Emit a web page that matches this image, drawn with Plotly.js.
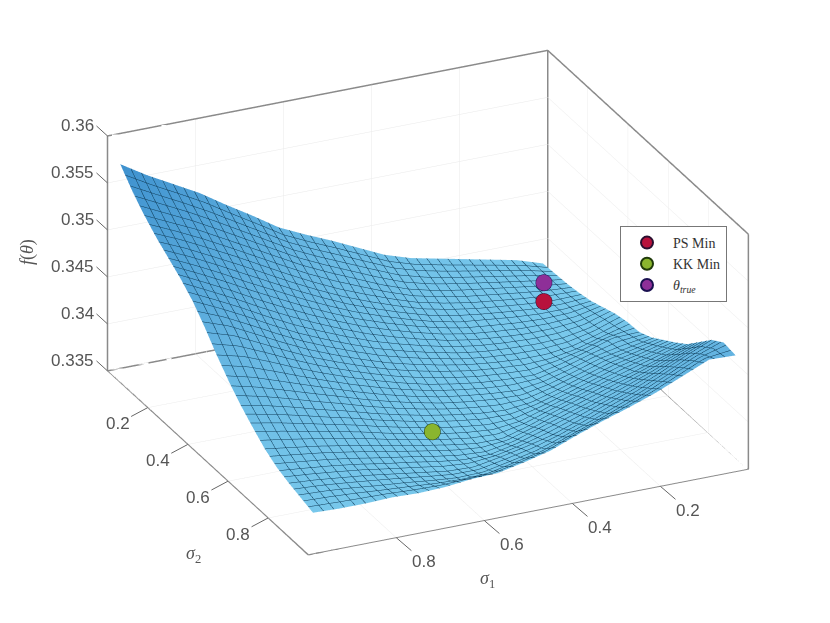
<!DOCTYPE html>
<html><head><meta charset="utf-8"><script src="https://cdn.plot.ly/plotly-3.0.1.min.js"></script>
<style>html,body{margin:0;padding:0;background:#fff}</style></head><body><div id="g" style="width:830px;height:623px"></div>
<script>
const sigma1=[.02,.08,.14,.20,.26,.32,.38,.44,.50,.56,.62,.68,.74,.80,.86,.92,.98];
const sigma2=[.02,.08,.14,.20,.26,.32,.38,.44,.50,.56,.62,.68,.74,.80,.86,.92,.98];
const fTheta=[
[.3379,.3388,.3394,.3400,.3406,.3412,.3421,.3434,.3447,.3459,.3472,.3490,.3507,.3525,.3540,.3555,.3572],
[.3380,.3386,.3391,.3396,.3401,.3407,.3415,.3427,.3439,.3451,.3464,.3480,.3496,.3512,.3527,.3541,.3555],
[.3381,.3384,.3388,.3392,.3396,.3401,.3408,.3418,.3430,.3442,.3455,.3470,.3485,.3500,.3515,.3528,.3541],
[.3383,.3383,.3385,.3388,.3391,.3396,.3402,.3411,.3421,.3432,.3445,.3459,.3474,.3489,.3503,.3517,.3529],
[.3386,.3383,.3383,.3385,.3388,.3391,.3397,.3405,.3414,.3424,.3436,.3449,.3463,.3477,.3492,.3506,.3519],
[.3391,.3384,.3382,.3382,.3384,.3387,.3392,.3399,.3407,.3416,.3427,.3439,.3452,.3466,.3481,.3495,.3509],
[.3396,.3386,.3381,.3380,.3381,.3383,.3387,.3393,.3400,.3408,.3418,.3429,.3441,.3455,.3470,.3484,.3497],
[.3399,.3390,.3382,.3378,.3378,.3380,.3383,.3388,.3394,.3401,.3410,.3420,.3431,.3444,.3458,.3472,.3481],
[.3400,.3399,.3390,.3382,.3376,.3377,.3379,.3383,.3388,.3395,.3403,.3412,.3422,.3433,.3445,.3456,.3463],
[.3406,.3401,.3396,.3387,.3379,.3374,.3376,.3379,.3383,.3389,.3396,.3404,.3413,.3422,.3431,.3440,.3447],
[.3415,.3408,.3402,.3393,.3384,.3376,.3373,.3375,.3379,.3384,.3390,.3397,.3405,.3412,.3420,.3427,.3433],
[.3424,.3416,.3409,.3400,.3391,.3382,.3374,.3372,.3375,.3379,.3385,.3391,.3398,.3404,.3410,.3416,.3421],
[.3434,.3425,.3416,.3408,.3399,.3390,.3380,.3372,.3372,.3376,.3381,.3386,.3392,.3397,.3402,.3406,.3410],
[.3448,.3437,.3426,.3416,.3406,.3397,.3388,.3379,.3373,.3374,.3378,.3383,.3387,.3392,.3396,.3399,.3402],
[.3462,.3450,.3437,.3425,.3415,.3404,.3394,.3387,.3381,.3376,.3377,.3381,.3385,.3389,.3392,.3395,.3397],
[.3471,.3461,.3448,.3435,.3424,.3413,.3403,.3393,.3387,.3381,.3380,.3382,.3385,.3387,.3390,.3392,.3393],
[.3469,.3470,.3458,.3446,.3436,.3427,.3417,.3406,.3399,.3393,.3392,.3389,.3388,.3389,.3388,.3388,.3389]];
const axisTicks=[.2,.4,.6,.8];
const axisTickText=['0.2','0.4','0.6','0.8'];
const zTicks=[.335,.34,.345,.35,.355,.36];
const zTickText=['0.335','0.34','0.345','0.35','0.355','0.36'];
const zGrid=[.34,.345,.35,.355];
const boxX=[1,0,0,1,1,null,0,0,0,null,0,0,null,1,1,null,1,0,0,null,1,1];
const boxY=[0,0,0,0,0,null,0,0,1,null,1,1,null,0,0,null,1,1,0,null,0,1];
const boxZ=[.335,.335,.36,.36,.335,null,.335,.36,.36,null,.335,.36,null,.335,.36,null,.335,.335,.335,null,.335,.335];
const traces=[
{type:'surface',x:sigma1,y:sigma2,z:fTheta,showscale:false,cmin:.335,cmax:.357,
 colorscale:[[0,'#80d0f0'],[.5,'#66b6e2'],[1,'#3f92cf']],
 lighting:{ambient:1,diffuse:0,specular:0,fresnel:0},
 contours:{x:{show:true,start:.02,end:.98,size:.024,color:'#0f3d5a',width:3,highlight:false},
           y:{show:true,start:.02,end:.98,size:.024,color:'#0f3d5a',width:3,highlight:false},
           z:{highlight:false}},showlegend:false,hoverinfo:'skip'},
{type:'scatter3d',mode:'lines',x:boxX,y:boxY,z:boxZ,line:{color:'#8a8a8a',width:3},showlegend:false,hoverinfo:'skip'},
{type:'scatter3d',mode:'markers',name:'PS Min',x:[.237],y:[.5],z:[.34524],marker:{size:9.5,color:'#b8123c',line:{color:'#2a1030',width:3}}},
{type:'scatter3d',mode:'markers',name:'KK Min',x:[.65],y:[.85],z:[.342],marker:{size:9.5,color:'#8ab52e',line:{color:'#1f3a0a',width:3}}},
{type:'scatter3d',mode:'markers',name:'<i>θ<sub>true</sub></i>',x:[.237],y:[.5],z:[.34725],marker:{size:9.5,color:'#8e2f98',line:{color:'#1a1050',width:3}}}
];
const ax=(vals)=>({range:[0,1],tickmode:'array',tickvals:vals,showticklabels:false,ticks:'',showbackground:false,showline:true,linecolor:'#8a8a8a',linewidth:2,zeroline:false,
 gridcolor:'#e9e9e9',gridwidth:1,title:{text:''},showspikes:false});
const tickStyle={showarrow:true,arrowhead:0,arrowwidth:1,arrowcolor:'#666',font:{family:'Liberation Sans',size:17,color:'#555'}};
const sceneTicks=[
 ...axisTicks.map((v,i)=>Object.assign({x:v,y:1,z:.335,text:axisTickText[i],ax:28,ay:24},tickStyle)),
 ...axisTicks.map((v,i)=>Object.assign({x:1,y:v,z:.335,text:axisTickText[i],ax:-30,ay:16},tickStyle)),
 ...zTicks.map((v,i)=>Object.assign({x:1,y:0,z:v,text:zTickText[i],xanchor:'right',ax:-11,ay:-10},tickStyle))
];
const titleStyle={xref:'paper',yref:'paper',xanchor:'center',yanchor:'middle',showarrow:false,font:{family:'Liberation Serif',size:18,color:'#555'}};
const layout={width:830,height:623,margin:{l:0,r:0,t:0,b:0},paper_bgcolor:'#fff',showlegend:true,
 legend:{x:620/830,y:1-226/623,xanchor:'left',yanchor:'top',bgcolor:'#fff',bordercolor:'#777',borderwidth:1,font:{family:'Liberation Serif',size:14,color:'#333'},itemsizing:'constant',itemwidth:42,entrywidth:94,entrywidthmode:'pixels'},
 scene:{domain:{x:[0,1],y:[0,1]},aspectmode:'manual',aspectratio:{x:1.556,y:1.54,z:.832},
  xaxis:ax(axisTicks),
  yaxis:ax(axisTicks),
  zaxis:Object.assign(ax(zGrid),{range:[.335,.36]}),
  annotations:sceneTicks,
  camera:{projection:{type:'orthographic'},up:{x:0,y:0,z:1},center:{x:.0458,y:0,z:-.0227},eye:{x:.804,y:1.646,z:.821}}},
 annotations:[
 Object.assign({x:27/830,y:1-252/623,text:'<i>f</i>(<i>θ</i>)',textangle:-90},titleStyle),
 Object.assign({x:193/830,y:1-554/623,text:'<i>σ</i><sub>2</sub>'},titleStyle),
 Object.assign({x:487/830,y:1-579/623,text:'<i>σ</i><sub>1</sub>'},titleStyle)]
};
Plotly.newPlot('g',traces,layout,{displayModeBar:false});
</script></body></html>
